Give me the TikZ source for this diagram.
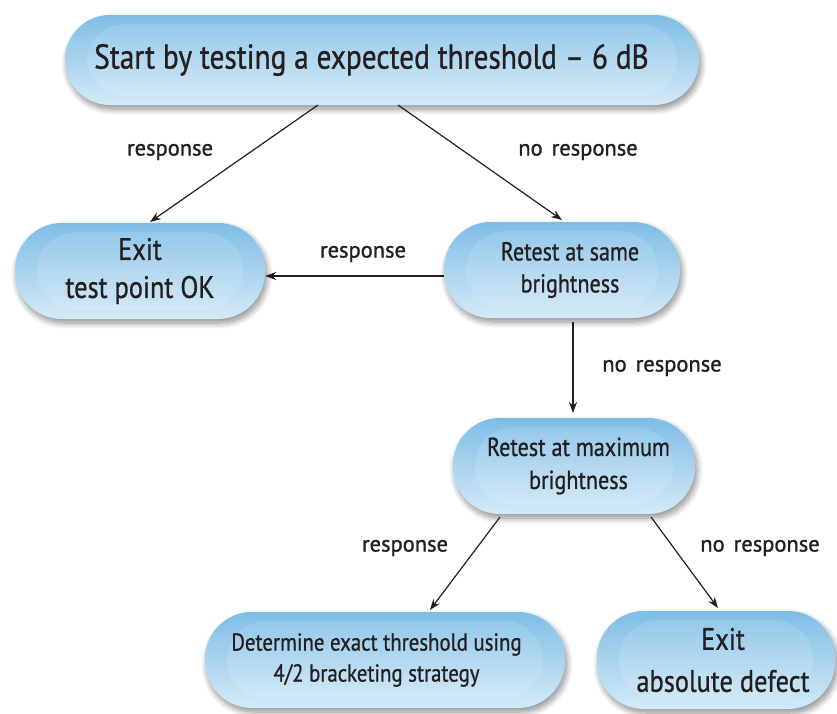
\documentclass[tikz,border=0pt]{standalone}
\usepackage{fontspec}
\setmainfont{PT Sans}[FakeStretch=0.85,FakeBold=0.8]
\newfontfamily\labfont{PT Sans}[FakeBold=1.2]
\usetikzlibrary{arrows.meta,shadows.blur}
\definecolor{capedge}{HTML}{7DBDE5}
\definecolor{capmid}{HTML}{AAD4EF}
\definecolor{caplight}{HTML}{D3EAF8}
\definecolor{inkc}{HTML}{231F20}
\newcommand{\pl}[1]{\hspace*{#1}}
\tikzset{
  capsule/.style={rectangle, rounded corners=#1, align=center, text=inkc,
    top color=capedge, bottom color=caplight, middle color=capmid,
    blur shadow={shadow xshift=2pt, shadow yshift=-4pt, shadow blur steps=10, shadow opacity=45, shadow blur radius=6pt},
    path picture={\fill[white,opacity=0.12,rounded corners=#1-8pt]
      ([shift={(22pt,-9pt)}]path picture bounding box.north west) rectangle
      ([shift={(-22pt,9pt)}]path picture bounding box.south east);},
    inner sep=0pt},
  conn/.style={draw=inkc, line width=1.2pt, -{Stealth[length=11pt,width=8pt]}},
  lab/.style={text=inkc, font=\labfont\fontsize{22.5}{26}\selectfont}
}
\begin{document}
\begin{tikzpicture}[x=1pt,y=-1pt]
\useasboundingbox (0,0) rectangle (837,713);
\node[capsule=45pt, minimum width=634pt, minimum height=90pt, font=\fontsize{34.5}{38}\selectfont] (start) at (382,60) {Start by testing a expected threshold -- 6 dB\pl{21pt}};
\node[capsule=47pt, minimum width=250pt, minimum height=96pt, font=\fontsize{31}{38}\selectfont] (ok) at (140,271) {Exit\\test point OK};
\node[capsule=47pt, minimum width=236pt, minimum height=96pt, font=\fontsize{26}{32}\selectfont] (same) at (562,270) {\pl{16pt}Retest at same\\\pl{16pt}brightness};
\node[capsule=47pt, minimum width=242pt, minimum height=96pt, font=\fontsize{26}{33}\selectfont] (max) at (574,466) {\pl{9pt}Retest at maximum\\\pl{9pt}brightness};
\node[capsule=47pt, minimum width=360pt, minimum height=96pt, font=\fontsize{24.5}{31}\selectfont] (det) at (385,660) {Determine exact threshold using\pl{17pt}\\4/2 bracketing strategy\pl{17pt}};
\node[capsule=47pt, minimum width=238pt, minimum height=98pt, font=\fontsize{31}{42}\selectfont] (abs) at (716,660) {\pl{14pt}Exit\\\pl{14pt}absolute defect};

\coordinate (s1) at (318,105);
\coordinate (s2) at (398,105);
\coordinate (m1) at (500,517);
\coordinate (m2) at (651,517);
\draw[conn] (s1) -- (150,222) coordinate (e1);
\draw[conn] (s2) -- (562,220) coordinate (e2);
\draw[conn] (same.west |- 0,276) -- (ok.east |- 0,276);
\draw[conn] (573,322) -- (573,413);
\draw[conn] (m1) -- (430,610);
\draw[conn] (m2) -- (718,608);

\node[lab] (l1) at (170,152) {response};
\node[lab] (l2) at (578,152) {no\hspace{3pt} response};
\node[lab] (l3) at (363,254) {response};
\node[lab] (l4) at (662,368) {no\hspace{3pt} response};
\node[lab] (l5) at (405,548) {response};
\node[lab] (l6) at (760,548) {no\hspace{3pt} response};
\end{tikzpicture}
\end{document}
